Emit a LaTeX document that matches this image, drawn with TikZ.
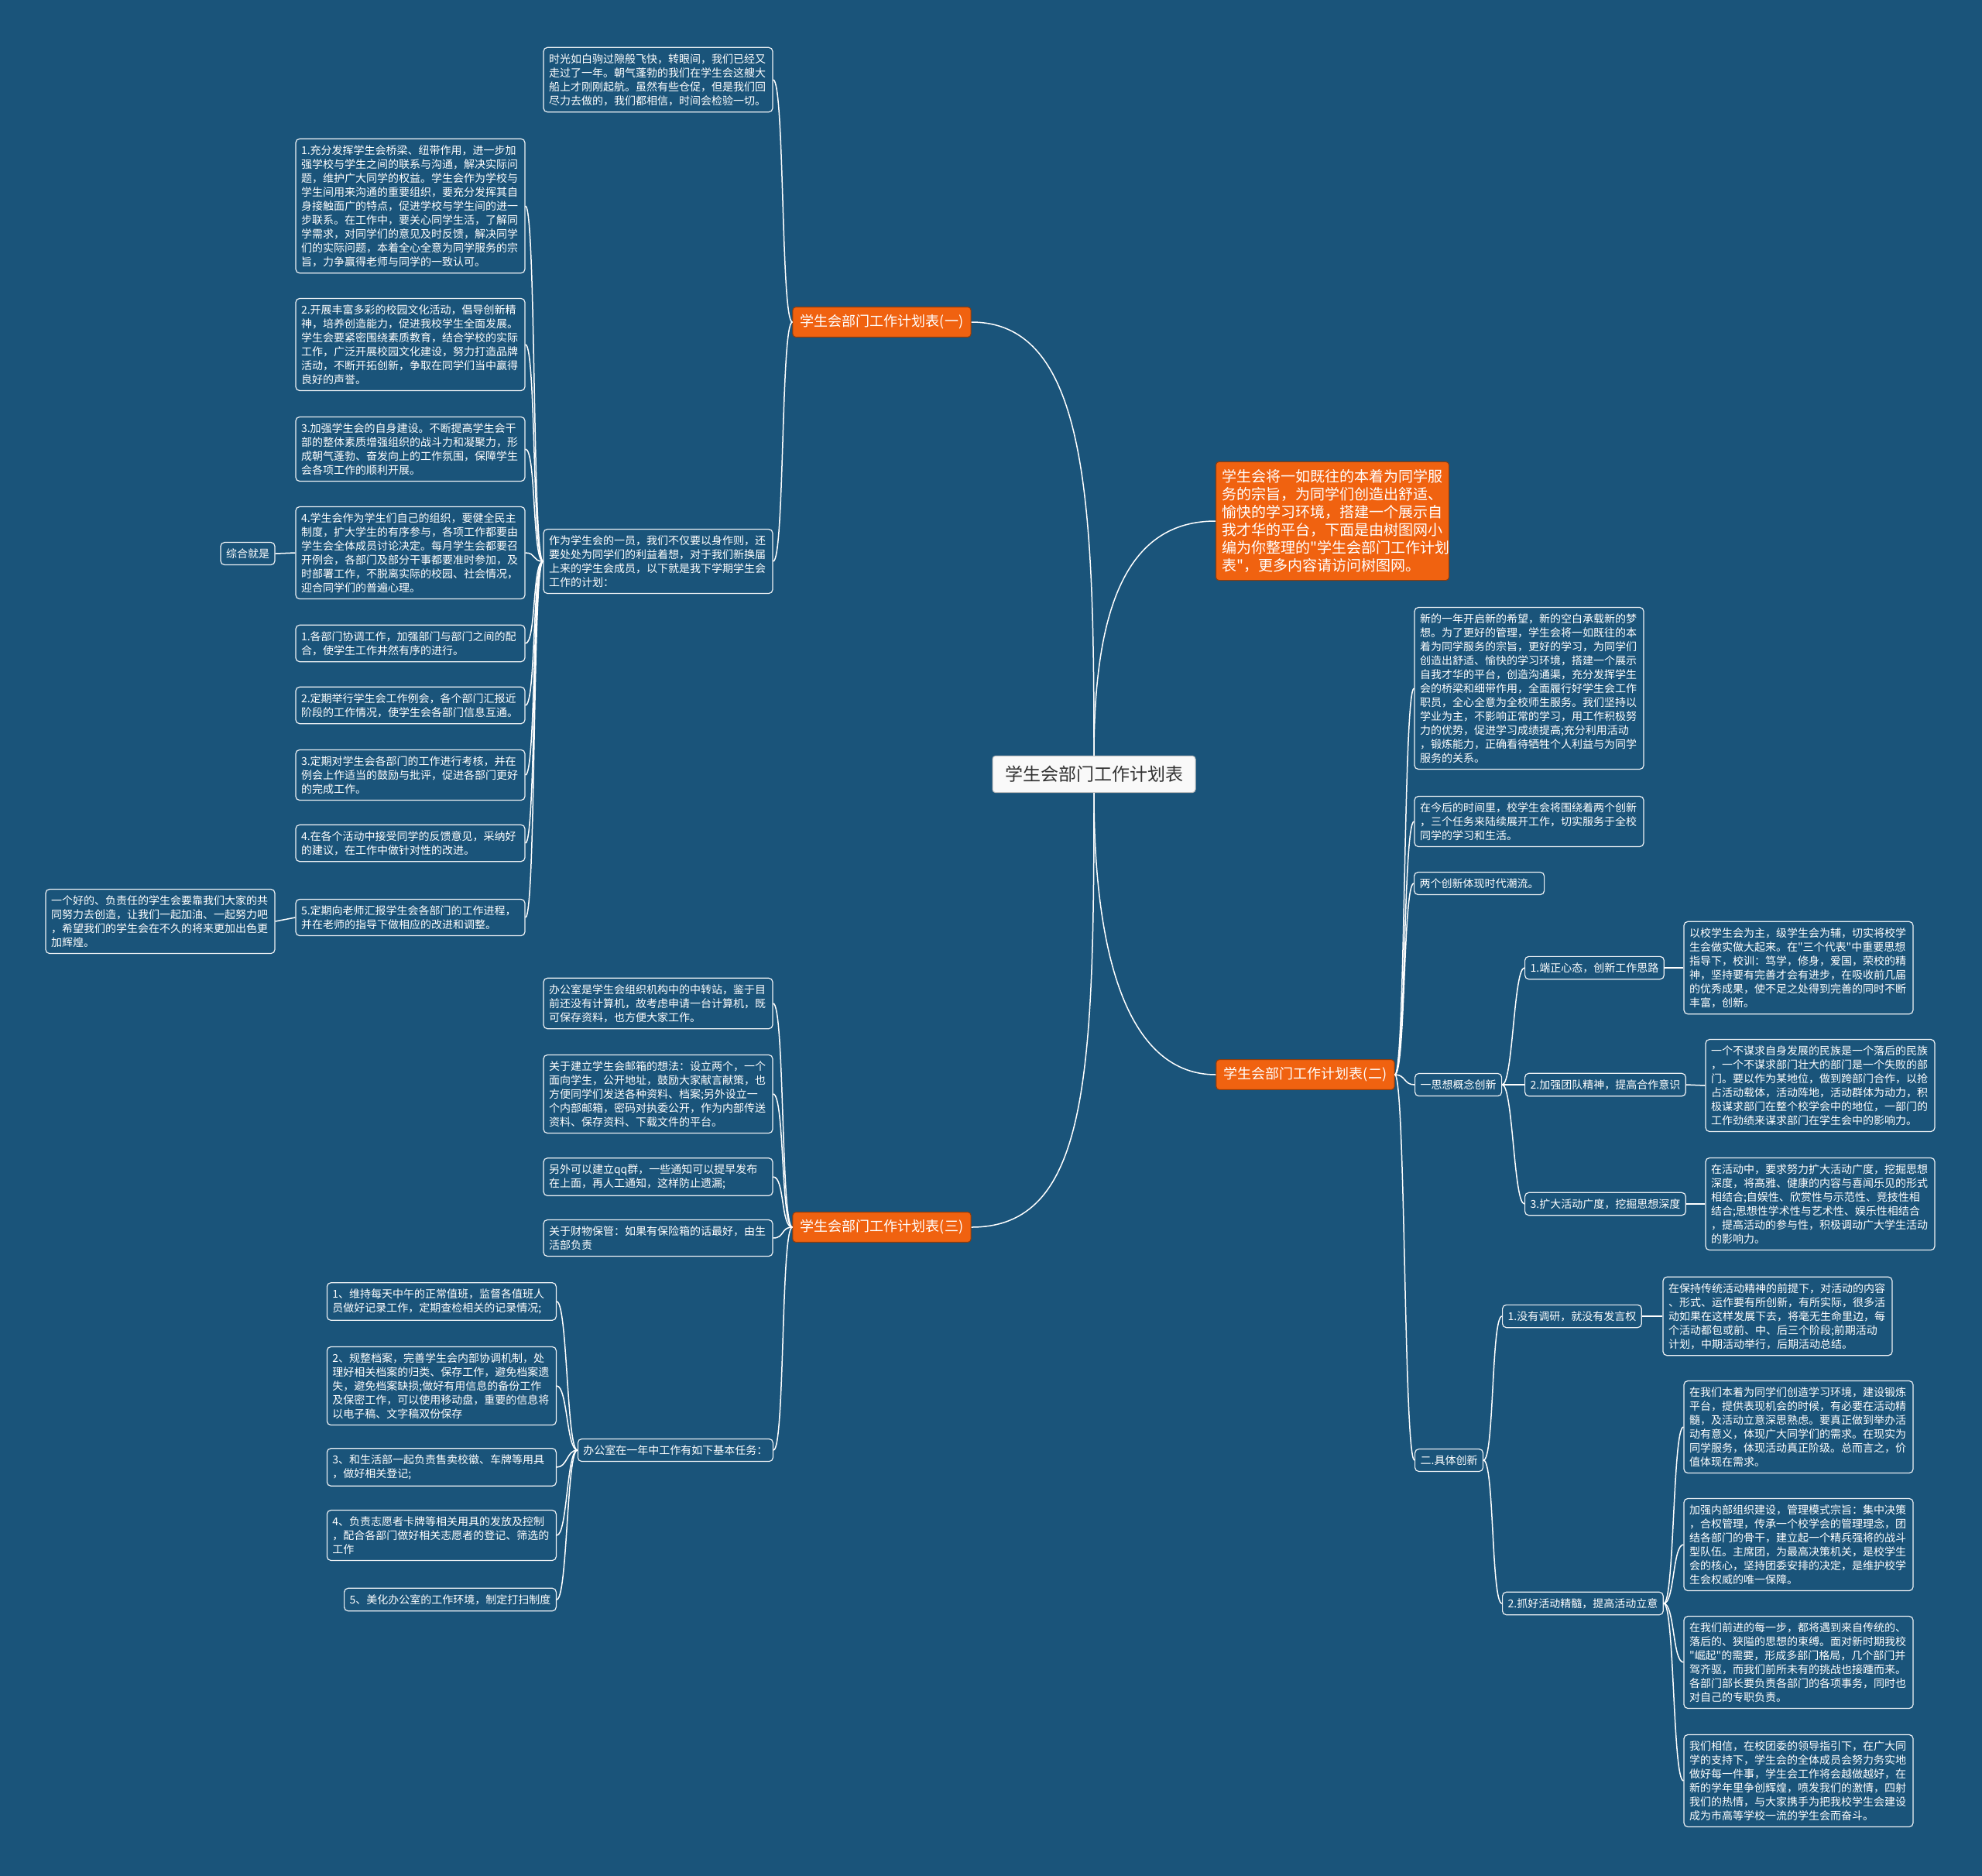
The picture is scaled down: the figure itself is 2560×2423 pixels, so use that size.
\documentclass[tikz,border=0pt]{standalone}
\usepackage{fontspec}
\setmainfont{Noto Sans CJK SC}
\newfontfamily\plainfont{Noto Sans CJK SC}
\newcommand{\qmark}{{\plainfont"}}
\definecolor{bgblue}{RGB}{26,84,122}
\definecolor{orng}{RGB}{240,98,16}

\begin{document}
\begin{tikzpicture}[x=1pt,y=-1pt,
  every node/.style={font=\fontsize{14}{18}\selectfont, text=white},
  box/.style={draw=white!92!bgblue, line width=1.2pt, rounded corners=5pt, fill=bgblue, inner xsep=7pt, inner ysep=8pt, align=left},
  leaf/.style={box, text width=282pt},
  topic/.style={fill=white!95!gray, draw=gray!50, line width=1pt, rounded corners=4pt, text=black!80, font=\fontsize{23}{28}\selectfont, inner xsep=16pt, inner ysep=13pt},
  branch/.style={fill=orng, draw=orng!60!black, line width=1pt, rounded corners=4pt, font=\fontsize{18}{22}\selectfont, inner xsep=10pt, inner ysep=10pt},
  link/.style={draw=white, line width=1.5pt}]
\fill[bgblue] (0,0) rectangle (2560,2423);
\useasboundingbox (0,0) rectangle (2560,2423);

\node[topic] (c) at (1413,1000) {学生会部门工作计划表};
\node[branch] (b1) at (1139,416) {学生会部门工作计划表(一)};
\node[branch] (b2) at (1686,1388) {学生会部门工作计划表(二)};
\node[branch] (b3) at (1139,1585) {学生会部门工作计划表(三)};
\node[branch, text width=285pt, align=left, font=\fontsize{19}{23}\selectfont, inner xsep=8pt] (intro) at (1721,673) {学生会将一如既往的本着为同学服\\
务的宗旨，为同学们创造出舒适、\\
愉快的学习环境，搭建一个展示自\\
我才华的平台，下面是由树图网小\\
编为你整理的\qmark 学生会部门工作计划\\
表\qmark ，更多内容请访问树图网。};
\draw[link] (c.north) .. controls +(0,-330) and +(150,0) .. (b1.east);
\draw[link] (c.north) .. controls +(0,-200) and +(-110,0) .. (intro.west);
\draw[link] (c.south) .. controls +(0,220) and +(-110,0) .. (b2.west);
\draw[link] (c.south) .. controls +(0,370) and +(150,0) .. (b3.east);

\node[leaf] (t1) at (850,103) {时光如白驹过隙般飞快，转眼间，我们已经又\\
走过了一年。朝气蓬勃的我们在学生会这艘大\\
船上才刚刚起航。虽然有些仓促，但是我们回\\
尽力去做的，我们都相信，时间会检验一切。};
\node[leaf] (i) at (850,725) {作为学生会的一员，我们不仅要以身作则，还\\
要处处为同学们的利益着想，对于我们新换届\\
上来的学生会成员，以下就是我下学期学生会\\
工作的计划：};
\draw[link] (b1.west) .. controls +(-15,0) and +(15,0) .. (t1.east);
\draw[link] (b1.west) .. controls +(-15,0) and +(15,0) .. (i.east);

\node[leaf] (a1) at (530,266) {1.充分发挥学生会桥梁、纽带作用，进一步加\\
强学校与学生之间的联系与沟通，解决实际问\\
题，维护广大同学的权益。学生会作为学校与\\
学生间用来沟通的重要组织，要充分发挥其自\\
身接触面广的特点，促进学校与学生间的进一\\
步联系。在工作中，要关心同学生活，了解同\\
学需求，对同学们的意见及时反馈，解决同学\\
们的实际问题，本着全心全意为同学服务的宗\\
旨，力争赢得老师与同学的一致认可。};
\node[leaf] (a2) at (530,445) {2.开展丰富多彩的校园文化活动，倡导创新精\\
神，培养创造能力，促进我校学生全面发展。\\
学生会要紧密围绕素质教育，结合学校的实际\\
工作，广泛开展校园文化建设，努力打造品牌\\
活动，不断开拓创新，争取在同学们当中赢得\\
良好的声誉。};
\node[leaf] (a3) at (530,580) {3.加强学生会的自身建设。不断提高学生会干\\
部的整体素质增强组织的战斗力和凝聚力，形\\
成朝气蓬勃、奋发向上的工作氛围，保障学生\\
会各项工作的顺利开展。};
\node[leaf] (a4) at (530,714) {4.学生会作为学生们自己的组织，要健全民主\\
制度，扩大学生的有序参与，各项工作都要由\\
学生会全体成员讨论决定。每月学生会都要召\\
开例会，各部门及部分干事都要准时参加，及\\
时部署工作，不脱离实际的校园、社会情况，\\
迎合同学们的普遍心理。};
\node[leaf] (p1) at (530,831) {1.各部门协调工作，加强部门与部门之间的配\\
合，使学生工作井然有序的进行。};
\node[leaf] (p2) at (530,911) {2.定期举行学生会工作例会，各个部门汇报近\\
阶段的工作情况，使学生会各部门信息互通。};
\node[leaf] (p3) at (530,1001) {3.定期对学生会各部门的工作进行考核，并在\\
例会上作适当的鼓励与批评，促进各部门更好\\
的完成工作。};
\node[leaf] (p4) at (530,1089) {4.在各个活动中接受同学的反馈意见，采纳好\\
的建议，在工作中做针对性的改进。};
\node[leaf] (p5) at (530,1185) {5.定期向老师汇报学生会各部门的工作进程，\\
并在老师的指导下做相应的改进和调整。};
\draw[link] (i.west) .. controls +(-14,0) and +(14,0) .. (a1.east);
\draw[link] (i.west) .. controls +(-14,0) and +(14,0) .. (a2.east);
\draw[link] (i.west) .. controls +(-14,0) and +(14,0) .. (a3.east);
\draw[link] (i.west) .. controls +(-14,0) and +(14,0) .. (a4.east);
\draw[link] (i.west) .. controls +(-14,0) and +(14,0) .. (p1.east);
\draw[link] (i.west) .. controls +(-14,0) and +(14,0) .. (p2.east);
\draw[link] (i.west) .. controls +(-14,0) and +(14,0) .. (p3.east);
\draw[link] (i.west) .. controls +(-14,0) and +(14,0) .. (p4.east);
\draw[link] (i.west) .. controls +(-14,0) and +(14,0) .. (p5.east);

\node[box] (z) at (320,715) {综合就是};
\node[leaf] (g) at (207,1190) {一个好的、负责任的学生会要靠我们大家的共\\
同努力去创造，让我们一起加油、一起努力吧\\
，希望我们的学生会在不久的将来更加出色更\\
加辉煌。};
\draw[link] (z.east) -- (a4.west);
\draw[link] (g.east) -- (p5.west);

\node[leaf] (r1) at (1975,889) {新的一年开启新的希望，新的空白承载新的梦\\
想。为了更好的管理，学生会将一如既往的本\\
着为同学服务的宗旨，更好的学习，为同学们\\
创造出舒适、愉快的学习环境，搭建一个展示\\
自我才华的平台，创造沟通渠，充分发挥学生\\
会的桥梁和细带作用，全面履行好学生会工作\\
职员，全心全意为全校师生服务。我们坚持以\\
学业为主，不影响正常的学习，用工作积极努\\
力的优势，促进学习成绩提高;充分利用活动\\
，锻炼能力，正确看待牺牲个人利益与为同学\\
服务的关系。};
\node[leaf] (r2) at (1975,1061) {在今后的时间里，校学生会将围绕着两个创新\\
，三个任务来陆续展开工作，切实服务于全校\\
同学的学习和生活。};
\node[box, anchor=west] (r3) at (1826,1141) {两个创新体现时代潮流。};
\node[box, anchor=west] (s1) at (1827,1401) {一思想概念创新};
\node[box, anchor=west] (s2) at (1827,1886) {二.具体创新};
\draw[link] (b2.east) .. controls +(14,0) and +(-14,0) .. (r1.west);
\draw[link] (b2.east) .. controls +(14,0) and +(-14,0) .. (r2.west);
\draw[link] (b2.east) .. controls +(14,0) and +(-14,0) .. (r3.west);
\draw[link] (b2.east) .. controls +(14,0) and +(-14,0) .. (s1.west);
\draw[link] (b2.east) .. controls +(14,0) and +(-14,0) .. (s2.west);

\node[box, anchor=west] (s1a) at (1969,1250) {1.端正心态，创新工作思路};
\node[box, anchor=west] (s1b) at (1969,1401) {2.加强团队精神，提高合作意识};
\node[box, anchor=west] (s1c) at (1969,1555) {3.扩大活动广度，挖掘思想深度};
\draw[link] (s1.east) .. controls +(14,0) and +(-14,0) .. (s1a.west);
\draw[link] (s1.east) -- (s1b.west);
\draw[link] (s1.east) .. controls +(14,0) and +(-14,0) .. (s1c.west);
\node[leaf] (s1ad) at (2323,1250) {以校学生会为主，级学生会为辅，切实将校学\\
生会做实做大起来。在\qmark 三个代表\qmark 中重要思想\\
指导下，校训：笃学，修身，爱国，荣校的精\\
神，坚持要有完善才会有进步，在吸收前几届\\
的优秀成果，使不足之处得到完善的同时不断\\
丰富，创新。};
\node[leaf] (s1bd) at (2351,1402) {一个不谋求自身发展的民族是一个落后的民族\\
，一个不谋求部门壮大的部门是一个失败的部\\
门。要以作为某地位，做到跨部门合作，以抢\\
占活动载体，活动阵地，活动群体为动力，积\\
极谋求部门在整个校学会中的地位，一部门的\\
工作劲绩来谋求部门在学生会中的影响力。};
\node[leaf] (s1cd) at (2351,1555) {在活动中，要求努力扩大活动广度，挖掘思想\\
深度，将高雅、健康的内容与喜闻乐见的形式\\
相结合;自娱性、欣赏性与示范性、竞技性相\\
结合;思想性学术性与艺术性、娱乐性相结合\\
，提高活动的参与性，积极调动广大学生活动\\
的影响力。};
\draw[link] (s1a.east) -- (s1ad.west);
\draw[link] (s1b.east) -- (s1bd.west);
\draw[link] (s1c.east) -- (s1cd.west);

\node[box, anchor=west] (s2a) at (1940,1700) {1.没有调研，就没有发言权};
\node[box, anchor=west] (s2b) at (1940,2071) {2.抓好活动精髓，提高活动立意};
\draw[link] (s2.east) .. controls +(14,0) and +(-14,0) .. (s2a.west);
\draw[link] (s2.east) .. controls +(14,0) and +(-14,0) .. (s2b.west);
\node[leaf] (s2ad) at (2296,1700) {在保持传统活动精神的前提下，对活动的内容\\
、形式、运作要有所创新，有所实际，很多活\\
动如果在这样发展下去，将毫无生命里边，每\\
个活动都包或前、中、后三个阶段;前期活动\\
计划，中期活动举行，后期活动总结。};
\draw[link] (s2a.east) -- (s2ad.west);
\node[leaf] (d1) at (2323,1843) {在我们本着为同学们创造学习环境，建设锻炼\\
平台，提供表现机会的时候，有必要在活动精\\
髓，及活动立意深思熟虑。要真正做到举办活\\
动有意义，体现广大同学们的需求。在现实为\\
同学服务，体现活动真正阶级。总而言之，价\\
值体现在需求。};
\node[leaf] (d2) at (2323,1995) {加强内部组织建设，管理模式宗旨：集中决策\\
，合权管理，传承一个校学会的管理理念，团\\
结各部门的骨干，建立起一个精兵强将的战斗\\
型队伍。主席团，为最高决策机关，是校学生\\
会的核心，坚持团委安排的决定，是维护校学\\
生会权威的唯一保障。};
\node[leaf] (d3) at (2323,2147) {在我们前进的每一步，都将遇到来自传统的、\\
落后的、狭隘的思想的束缚。面对新时期我校\\
\qmark 崛起\qmark 的需要，形成多部门格局，几个部门并\\
驾齐驱，而我们前所未有的挑战也接踵而来。\\
各部门部长要负责各部门的各项事务，同时也\\
对自己的专职负责。};
\node[leaf] (d4) at (2323,2300) {我们相信，在校团委的领导指引下，在广大同\\
学的支持下，学生会的全体成员会努力务实地\\
做好每一件事，学生会工作将会越做越好，在\\
新的学年里争创辉煌，喷发我们的激情，四射\\
我们的热情，与大家携手为把我校学生会建设\\
成为市高等学校一流的学生会而奋斗。};
\draw[link] (s2b.east) .. controls +(14,0) and +(-14,0) .. (d1.west);
\draw[link] (s2b.east) .. controls +(14,0) and +(-14,0) .. (d2.west);
\draw[link] (s2b.east) .. controls +(14,0) and +(-14,0) .. (d3.west);
\draw[link] (s2b.east) .. controls +(14,0) and +(-14,0) .. (d4.west);

\node[leaf] (c1) at (850,1296) {办公室是学生会组织机构中的中转站，鉴于目\\
前还没有计算机，故考虑申请一台计算机，既\\
可保存资料，也方便大家工作。};
\node[leaf] (c2) at (850,1413) {关于建立学生会邮箱的想法：设立两个，一个\\
面向学生，公开地址，鼓励大家献言献策，也\\
方便同学们发送各种资料、档案;另外设立一\\
个内部邮箱，密码对执委公开，作为内部传送\\
资料、保存资料、下载文件的平台。};
\node[leaf] (c3) at (850,1520) {另外可以建立qq群，一些通知可以提早发布\\
在上面，再人工通知，这样防止遗漏;};
\node[leaf] (c4) at (850,1599) {关于财物保管：如果有保险箱的话最好，由生\\
活部负责};
\node[box, anchor=east] (c5) at (999,1873) {办公室在一年中工作有如下基本任务：};
\draw[link] (b3.west) .. controls +(-15,0) and +(15,0) .. (c1.east);
\draw[link] (b3.west) .. controls +(-15,0) and +(15,0) .. (c2.east);
\draw[link] (b3.west) .. controls +(-15,0) and +(15,0) .. (c3.east);
\draw[link] (b3.west) .. controls +(-15,0) and +(15,0) .. (c4.east);
\draw[link] (b3.west) .. controls +(-15,0) and +(15,0) .. (c5.east);

\node[leaf, anchor=east] (o1) at (719,1681) {1、维持每天中午的正常值班，监督各值班人\\
员做好记录工作，定期查检相关的记录情况;};
\node[leaf, anchor=east] (o2) at (719,1790) {2、规整档案，完善学生会内部协调机制，处\\
理好相关档案的归类、保存工作，避免档案遗\\
失，避免档案缺损;做好有用信息的备份工作\\
及保密工作，可以使用移动盘，重要的信息将\\
以电子稿、文字稿双份保存};
\node[leaf, anchor=east] (o3) at (719,1895) {3、和生活部一起负责售卖校徽、车牌等用具\\
，做好相关登记;};
\node[leaf, anchor=east] (o4) at (719,1983) {4、负责志愿者卡牌等相关用具的发放及控制\\
，配合各部门做好相关志愿者的登记、筛选的\\
工作};
\node[box, anchor=east] (o5) at (719,2066) {5、美化办公室的工作环境，制定打扫制度};
\draw[link] (c5.west) .. controls +(-14,0) and +(14,0) .. (o1.east);
\draw[link] (c5.west) .. controls +(-14,0) and +(14,0) .. (o2.east);
\draw[link] (c5.west) .. controls +(-14,0) and +(14,0) .. (o3.east);
\draw[link] (c5.west) .. controls +(-14,0) and +(14,0) .. (o4.east);
\draw[link] (c5.west) .. controls +(-14,0) and +(14,0) .. (o5.east);
\end{tikzpicture}
\end{document}
